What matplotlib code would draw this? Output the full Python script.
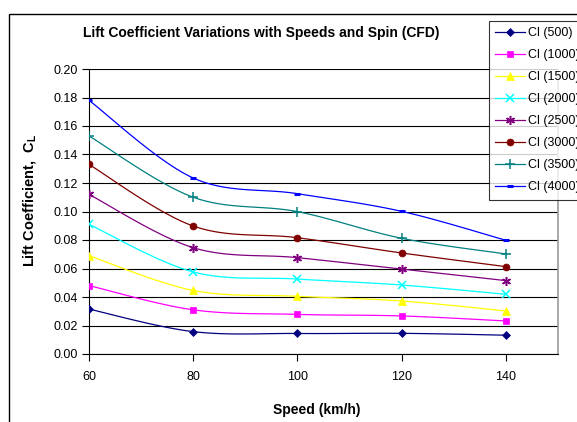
import numpy as np
import matplotlib
matplotlib.use("Agg")
import matplotlib.pyplot as plt
from matplotlib.patches import Rectangle

plt.rcParams['font.family'] = ['Liberation Sans', 'DejaVu Sans']

# Speed (km/h)
speed = [60, 80, 100, 120, 140]

# Lift coefficient per spin (rpm)
cl_500 = [0.0315, 0.0157, 0.0144, 0.0145, 0.0132]
cl_1000 = [0.0480, 0.0310, 0.0278, 0.0267, 0.0232]
cl_1500 = [0.0690, 0.0446, 0.0405, 0.0372, 0.0302]
cl_2000 = [0.0910, 0.0576, 0.0526, 0.0484, 0.0419]
cl_2500 = [0.1120, 0.0746, 0.0676, 0.0596, 0.0515]
cl_3000 = [0.1330, 0.0898, 0.0816, 0.0709, 0.0613]
cl_3500 = [0.1530, 0.1100, 0.0999, 0.0812, 0.0702]
cl_4000 = [0.1780, 0.1235, 0.1125, 0.1001, 0.0798]

labels = ['Cl (500)', 'Cl (1000)', 'Cl (1500)', 'Cl (2000)',
          'Cl (2500)', 'Cl (3000)', 'Cl (3500)', 'Cl (4000)']
series = [cl_500, cl_1000, cl_1500, cl_2000, cl_2500, cl_3000, cl_3500, cl_4000]
colors = ['#000080', '#FF00FF', '#FFFF00', '#00FFFF',
          '#800080', '#800000', '#008080', '#0000FF']
markers = ['D', 's', '^', 'x', (6, 2, 0), 'o', '+', '_']
msizes = [4, 5, 5.5, 5.5, 6.5, 5, 7, 4]
mews = [0.5, 0.5, 0.5, 1.1, 1.1, 0.5, 1.1, 2.2]


def smooth(x, y, n=30):
    # Excel-style smoothed line (cardinal bezier through the points)
    x = np.asarray(x, float)
    y = np.asarray(y, float)
    px, py = [], []
    for i in range(len(x) - 1):
        x0, y0 = (x[i - 1], y[i - 1]) if i > 0 else (x[i], y[i])
        x3, y3 = (x[i + 2], y[i + 2]) if i + 2 < len(x) else (x[i + 1], y[i + 1])
        c1x = x[i] + (x[i + 1] - x0) / 6
        c1y = y[i] + (y[i + 1] - y0) / 6
        c2x = x[i + 1] - (x3 - x[i]) / 6
        c2y = y[i + 1] - (y3 - y[i]) / 6
        t = np.linspace(0, 1, n)
        b0, b1, b2, b3 = (1 - t) ** 3, 3 * t * (1 - t) ** 2, 3 * t ** 2 * (1 - t), t ** 3
        px.extend(b0 * x[i] + b1 * c1x + b2 * c2x + b3 * x[i + 1])
        py.extend(b0 * y[i] + b1 * c1y + b2 * c2y + b3 * y[i + 1])
    return px, py


fig = plt.figure(figsize=(5.77, 4.22), dpi=100)
ax = fig.add_axes([89 / 577, 1 - 354 / 422, (558 - 89) / 577, (354 - 69) / 422])

handles = []
for vals, lab, c, m, ms, mw in zip(series, labels, colors, markers, msizes, mews):
    sx, sy = smooth(speed, vals)
    ax.plot(sx, sy, color=c, lw=0.9, zorder=3)
    ax.plot(speed, vals, ls='none', marker=m, color=c, ms=ms,
            mec=c, mew=mw, zorder=4)
    h, = ax.plot([], [], color=c, lw=0.9, marker=m, ms=ms, mec=c, mew=mw, label=lab)
    handles.append(h)

ax.set_xlim(60, 150)
ax.set_ylim(0, 0.20)
ax.set_xticks(speed)
ax.set_yticks(np.arange(0, 0.201, 0.02))
ax.set_yticklabels(['%.2f' % v for v in np.arange(0, 0.201, 0.02)])
ax.yaxis.grid(True, color='black', lw=0.8)
ax.set_axisbelow(True)
ax.tick_params(direction='out', length=5, width=0.8, labelsize=9, colors='black')
ax.tick_params(axis='x', pad=7.5)
ax.tick_params(axis='y', pad=3)
ax.spines['top'].set_visible(False)
ax.spines['right'].set_color('#999999')
ax.spines['right'].set_linewidth(1.2)
ax.spines['left'].set_linewidth(0.8)
ax.spines['bottom'].set_linewidth(0.8)

ax.set_xlabel('Speed (km/h)', fontsize=10, fontweight='bold', va='center')
ax.xaxis.set_label_coords((317 - 89) / 469, (354 - 410) / 285)
ax.set_ylabel(r'Lift Coefficient,  C$_\mathregular{L}$', fontsize=10.5,
              fontweight='bold', va='center')
ax.yaxis.set_label_coords((30 - 89) / 469, 0.54)

fig.text(261 / 577, 1 - 33 / 422,
         'Lift Coefficient Variations with Speeds and Spin (CFD)',
         ha='center', va='center', fontsize=10, fontweight='bold')

leg = fig.legend(handles=handles, loc='upper left',
                 bbox_to_anchor=(489 / 577, 1 - 21 / 422),
                 frameon=True, fancybox=False, fontsize=9, handlelength=2.4,
                 handletextpad=0.25, labelspacing=0.8, borderpad=0.5,
                 borderaxespad=0)
leg.get_frame().set_edgecolor('black')
leg.get_frame().set_linewidth(0.8)

fig.patches.append(Rectangle((9 / 577, -0.1), 1.2, 1 - 14 / 422 + 0.1,
                             transform=fig.transFigure, fill=False,
                             edgecolor='black', lw=1.0, zorder=0))

fig.savefig('out.png', dpi=100)
